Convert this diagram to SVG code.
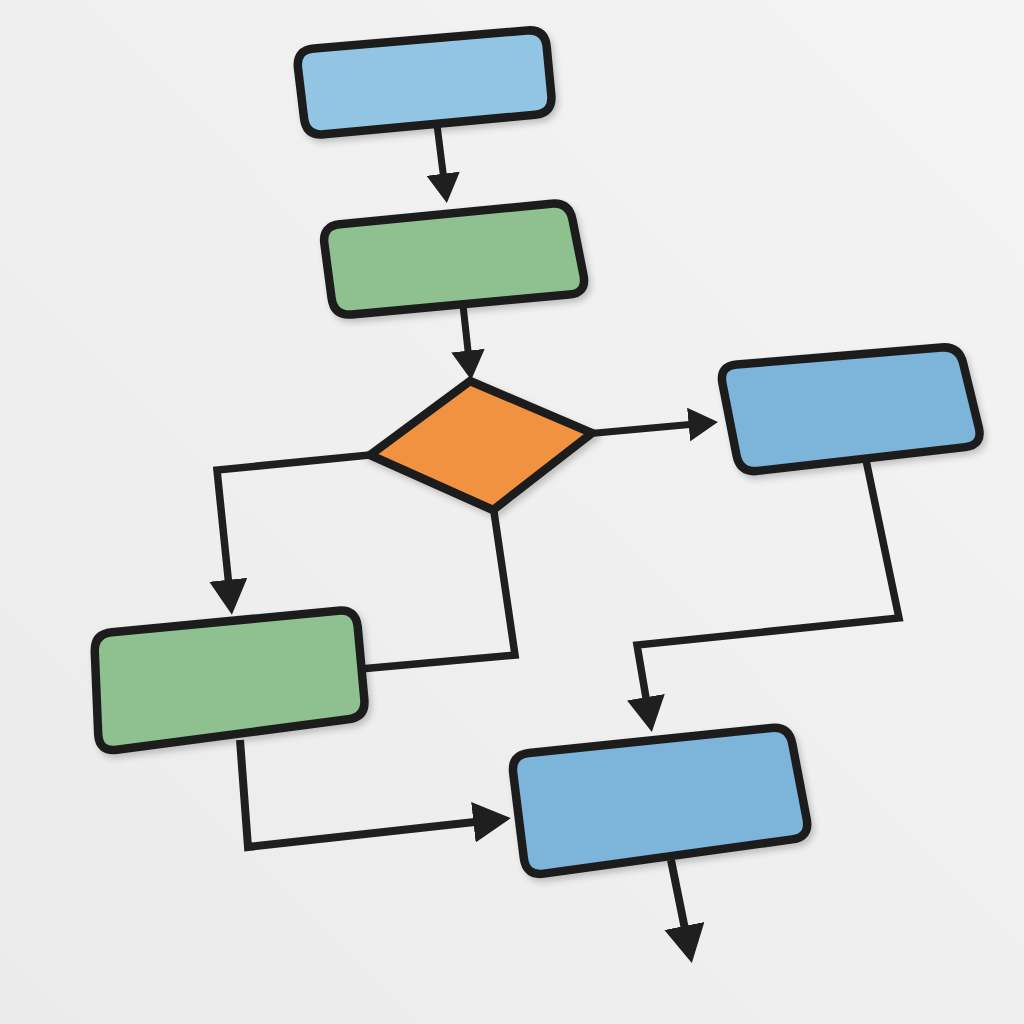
<svg xmlns="http://www.w3.org/2000/svg" width="1024" height="1024" viewBox="0 0 1024 1024">
  <defs>
    <linearGradient id="bg" x1="1" y1="0" x2="0" y2="1">
      <stop offset="0" stop-color="#f4f4f4"/>
      <stop offset="1" stop-color="#ebebeb"/>
    </linearGradient>
    <filter id="sh" x="-10%" y="-10%" width="125%" height="130%">
      <feDropShadow dx="3" dy="4" stdDeviation="3" flood-color="#000" flood-opacity="0.2"/>
    </filter>
    <marker id="ah" viewBox="0 0 8.4 9.6" refX="0.3" refY="4.8" markerWidth="4.2" markerHeight="4.8" orient="auto" markerUnits="strokeWidth">
      <path d="M0,0 L8.4,4.8 L0,9.6 Z" fill="#1f1f1f"/>
    </marker>
    <marker id="ahL" viewBox="0 0 9.4 10.2" refX="0.3" refY="5.1" markerWidth="4.7" markerHeight="5.1" orient="auto" markerUnits="strokeWidth">
      <path d="M0,0 L9.4,5.1 L0,10.2 Z" fill="#1f1f1f"/>
    </marker>
  </defs>
  <style>
    .node { stroke: #1e1e1e; stroke-width: 8.5; stroke-linejoin: round; filter: url(#sh); }
    .blueA { fill: #91c5e3; }
    .blue { fill: #7db4da; }
    .green { fill: #8fc190; }
    .orange { fill: #f1923f; stroke-linejoin: miter; }
    .conn { fill: none; stroke: #1f1f1f; stroke-linejoin: miter; stroke-linecap: butt; }
    .t { stroke-width: 7; }
    .b { stroke-width: 7.5; }
    .c { stroke-width: 8; }
  </style>
  <rect x="0" y="0" width="1024" height="1024" fill="url(#bg)"/>

  <g id="connectors">
    <path class="conn t" d="M437,125 L443.3,174.8" marker-end="url(#ah)"/>
    <path class="conn t" d="M463,305 L468.1,351.7" marker-end="url(#ah)"/>
    <path class="conn t" d="M585,434 L689.7,424.5" marker-end="url(#ah)"/>
    <path class="conn b" d="M380,454 L217,470 L228.4,580.9" marker-end="url(#ahL)"/>
    <path class="conn b" d="M493,505 L515,655 L360,669"/>
    <path class="conn b" d="M866,460 L899,618 L637,645 L646.1,698.3" marker-end="url(#ahL)"/>
    <path class="conn c" d="M240,740 L248,847 L474.6,822.1" marker-end="url(#ahL)"/>
    <path class="conn c" d="M671,860 L684.6,927.2" marker-end="url(#ahL)"/>
  </g>

  <g id="node-start">
    <path class="node blueA" d="M314,48.5 L527,30.5 Q545,29 546.7,47 L551.3,95 Q553,113 535,114.7 L324,134.3 Q306,136 304,118 L298,68 Q296,50 314,48.5 Z"/>
  </g>
  <g id="node-step1">
    <path class="node green" d="M339.9,224.3 L551.1,203.7 Q569,202 572.5,219.7 L583.5,275.3 Q587,293 569.1,294.6 L351.9,314.4 Q334,316 331.6,298.2 L324.4,243.8 Q322,226 339.9,224.3 Z"/>
  </g>
  <g id="node-decision">
    <path class="node orange" d="M470,381 L592,433 L493,510 L370,455 Z"/>
  </g>
  <g id="node-right">
    <path class="node blue" d="M736.9,364.5 L941.1,347.5 Q959,346 963.2,363.5 L978.8,427.5 Q983,445 965.1,447.1 L757.9,470.9 Q740,473 736.5,455.3 L722.5,383.7 Q719,366 736.9,364.5 Z"/>
  </g>
  <g id="node-left">
    <path class="node green" d="M111.9,632.3 L338.1,610.7 Q356,609 357.7,626.9 L364.3,699.1 Q366,717 348.2,719.3 L116.8,749.7 Q99,752 98.2,734 L94.8,652 Q94,634 111.9,632.3 Z"/>
  </g>
  <g id="node-end">
    <path class="node blue" d="M528.9,753.1 L771.1,727.9 Q789,726 792.3,743.7 L806.7,819.3 Q810,837 792.2,839.4 L543.8,873.6 Q526,876 523.8,858.1 L513.2,772.9 Q511,755 528.9,753.1 Z"/>
  </g>
</svg>
